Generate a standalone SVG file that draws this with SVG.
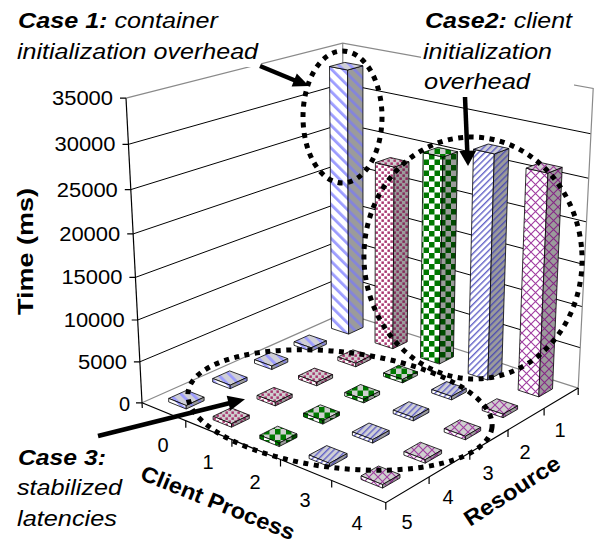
<svg xmlns="http://www.w3.org/2000/svg" width="594" height="544" viewBox="0 0 594 544">
<style>
.grid{stroke:#000;stroke-width:1;fill:none}
.edge{stroke:#8a8a8a;stroke-width:1.2;fill:none}
.ax{stroke:#000;stroke-width:1.2;fill:none}
.f{stroke:#000;stroke-width:0.8;stroke-linejoin:round}
.tl{font-family:"Liberation Sans",Arial,sans-serif;font-size:20px;fill:#000}
.note{font-family:"Liberation Sans",Arial,sans-serif;font-size:22px;font-style:italic;fill:#000}
.title{font-family:"Liberation Sans",Arial,sans-serif;font-size:22px;font-weight:bold;fill:#000}
.dots{fill:none;stroke:#000;stroke-width:5;stroke-dasharray:5 5.5}
.arr{stroke:#000;stroke-width:4.5;fill:none}
.head{fill:#000;stroke:none}
</style>
<defs>
<pattern id="s0" patternUnits="userSpaceOnUse" width="8" height="8" patternTransform="rotate(-45)"><rect width="8" height="8" fill="#fff"/><rect width="2.8" height="8" fill="#9c9cff"/></pattern>
<pattern id="s0d" patternUnits="userSpaceOnUse" width="8" height="8" patternTransform="rotate(-45)"><rect width="8" height="8" fill="#9b9b9b"/><rect width="2.8" height="8" fill="#8484dc"/></pattern>
<pattern id="s0t" patternUnits="userSpaceOnUse" width="8" height="8" patternTransform="rotate(-45)"><rect width="8" height="8" fill="#cfcfd6"/><rect width="2.8" height="8" fill="#9c9cff"/></pattern>
<pattern id="s1" patternUnits="userSpaceOnUse" width="6" height="6"><rect width="6" height="6" fill="#fff"/><rect x="0.4" y="0.4" width="2.5" height="2.5" fill="#a8366f"/><rect x="3.4" y="3.4" width="2.5" height="2.5" fill="#a8366f"/></pattern>
<pattern id="s1d" patternUnits="userSpaceOnUse" width="6" height="6"><rect width="6" height="6" fill="#9b9b9b"/><rect x="0.4" y="0.4" width="2.5" height="2.5" fill="#86295a"/><rect x="3.4" y="3.4" width="2.5" height="2.5" fill="#86295a"/></pattern>
<pattern id="s1t" patternUnits="userSpaceOnUse" width="6" height="6"><rect width="6" height="6" fill="#cfcfcf"/><rect x="0.4" y="0.4" width="2.5" height="2.5" fill="#a8366f"/><rect x="3.4" y="3.4" width="2.5" height="2.5" fill="#a8366f"/></pattern>
<pattern id="s2" patternUnits="userSpaceOnUse" width="11" height="11"><rect width="11" height="11" fill="#fff"/><rect width="5.5" height="5.5" fill="#007800"/><rect x="5.5" y="5.5" width="5.5" height="5.5" fill="#007800"/></pattern>
<pattern id="s2d" patternUnits="userSpaceOnUse" width="11" height="11"><rect width="11" height="11" fill="#9b9b9b"/><rect width="5.5" height="5.5" fill="#004a00"/><rect x="5.5" y="5.5" width="5.5" height="5.5" fill="#004a00"/></pattern>
<pattern id="s2t" patternUnits="userSpaceOnUse" width="11" height="11"><rect width="11" height="11" fill="#cfcfcf"/><rect width="5.5" height="5.5" fill="#007800"/><rect x="5.5" y="5.5" width="5.5" height="5.5" fill="#007800"/></pattern>
<pattern id="s3" patternUnits="userSpaceOnUse" width="4.5" height="4.5" patternTransform="rotate(45)"><rect width="4.5" height="4.5" fill="#fff"/><rect width="1.4" height="4.5" fill="#6464c8"/></pattern>
<pattern id="s3d" patternUnits="userSpaceOnUse" width="4.5" height="4.5" patternTransform="rotate(45)"><rect width="4.5" height="4.5" fill="#9b9b9b"/><rect width="1.4" height="4.5" fill="#5050b0"/></pattern>
<pattern id="s3t" patternUnits="userSpaceOnUse" width="4.5" height="4.5" patternTransform="rotate(45)"><rect width="4.5" height="4.5" fill="#cfcfd6"/><rect width="1.4" height="4.5" fill="#6464c8"/></pattern>
<pattern id="s4" patternUnits="userSpaceOnUse" width="9" height="9"><rect width="9" height="9" fill="#fff"/><path d="M0 0L9 9M9 0L0 9" stroke="#a03ca0" stroke-width="1.1"/></pattern>
<pattern id="s4d" patternUnits="userSpaceOnUse" width="9" height="9"><rect width="9" height="9" fill="#9b9b9b"/><path d="M0 0L9 9M9 0L0 9" stroke="#862686" stroke-width="1.1"/></pattern>
<pattern id="s4t" patternUnits="userSpaceOnUse" width="9" height="9"><rect width="9" height="9" fill="#cfcfcf"/><path d="M0 0L9 9M9 0L0 9" stroke="#a03ca0" stroke-width="1.1"/></pattern>
</defs>
<rect width="594" height="544" fill="#fff"/>

<g id="walls">
<polygon points="126,98.2 342.7,43.1 593.2,88.5 578.2,388.1 385.8,502.7 142,402.8" fill="#fff"/>
<line class="grid" x1="139.9" y1="361.8" x2="343.8" y2="276.4"/>
<line class="grid" x1="137.7" y1="320" x2="343.6" y2="239.2"/>
<line class="grid" x1="135.4" y1="277.4" x2="343.5" y2="201.3"/>
<line class="grid" x1="133.2" y1="233.9" x2="343.3" y2="162.8"/>
<line class="grid" x1="130.8" y1="189.6" x2="343.1" y2="123.6"/>
<line class="grid" x1="128.5" y1="144.3" x2="342.9" y2="83.7"/>
<line class="grid" x1="343.8" y1="276.4" x2="580.2" y2="347.7"/>
<line class="grid" x1="343.6" y1="239.2" x2="582.2" y2="306.6"/>
<line class="grid" x1="343.5" y1="201.3" x2="584.3" y2="264.6"/>
<line class="grid" x1="343.3" y1="162.8" x2="586.5" y2="221.9"/>
<line class="grid" x1="343.1" y1="123.6" x2="588.7" y2="178.3"/>
<line class="grid" x1="342.9" y1="83.7" x2="590.9" y2="133.8"/>
<polyline class="edge" points="126,98.2 342.7,43.1 593.2,88.5 578.2,388.1 344,313 142,402.8"/>
<line class="edge" x1="344" y1="313" x2="342.7" y2="43.1"/>
</g>

<g id="axes">
<line class="ax" x1="126" y1="98.2" x2="142.3" y2="408"/>
<path class="ax" d="M120 98.2H126M122.5 144.3H128.5M124.8 189.6H130.8M127.2 233.9H133.2M129.4 277.4H135.4M131.7 320H137.7M133.9 361.8H139.9M136 402.8H142"/>
<polyline class="ax" points="142,402.8 385.8,502.7 578.2,388.1"/>
<path class="ax" d="M185.8 420.8v7M231.9 439.7v7M280.5 459.6v7M331.7 480.5v7M385.8 502.7v7M429.1 476.9v7M469.8 452.7v7M508 429.9v7M544.1 408.4v7M578.2 388.1v7"/>
<text class="tl" x="52" y="105.2" textLength="61" lengthAdjust="spacingAndGlyphs">35000</text>
<text class="tl" x="54.5" y="151.3" textLength="61" lengthAdjust="spacingAndGlyphs">30000</text>
<text class="tl" x="56.8" y="196.6" textLength="61" lengthAdjust="spacingAndGlyphs">25000</text>
<text class="tl" x="59.2" y="240.9" textLength="61" lengthAdjust="spacingAndGlyphs">20000</text>
<text class="tl" x="61.4" y="284.4" textLength="61" lengthAdjust="spacingAndGlyphs">15000</text>
<text class="tl" x="63.7" y="327" textLength="61" lengthAdjust="spacingAndGlyphs">10000</text>
<text class="tl" x="77.9" y="368.8" textLength="49" lengthAdjust="spacingAndGlyphs">5000</text>
<text class="tl" x="130" y="410.5" text-anchor="end">0</text>
<text class="tl" x="163" y="452" text-anchor="middle">0</text>
<text class="tl" x="208" y="469" text-anchor="middle">1</text>
<text class="tl" x="255" y="489" text-anchor="middle">2</text>
<text class="tl" x="305" y="507" text-anchor="middle">3</text>
<text class="tl" x="357" y="530" text-anchor="middle">4</text>
<text class="tl" x="560" y="437" text-anchor="middle">1</text>
<text class="tl" x="525" y="459" text-anchor="middle">2</text>
<text class="tl" x="488" y="480" text-anchor="middle">3</text>
<text class="tl" x="448" y="504" text-anchor="middle">4</text>
<text class="tl" x="407" y="529" text-anchor="middle">5</text>
<text class="title" transform="translate(33,251.5) rotate(-90)" text-anchor="middle" textLength="127" lengthAdjust="spacingAndGlyphs">Time (ms)</text>
<text class="title" transform="translate(139,479) rotate(22)" textLength="164" lengthAdjust="spacingAndGlyphs">Client Process</text>
<text class="title" transform="translate(470,527) rotate(-33)" textLength="110" lengthAdjust="spacingAndGlyphs">Resource</text>
</g>

<g id="bars">
<g id="bar-c0-r1">
<polygon class="f" fill="url(#s0)" points="331.5,328.4 348.6,334.1 347.6,70 329.5,66.5"/>
<polygon class="f" fill="url(#s0d)" points="348.6,334.1 363.1,327.4 362.9,65.8 347.6,70"/>
<polygon class="f" fill="url(#s0t)" points="329.5,66.5 347.6,70 362.9,65.8 344.8,62.4"/>
</g>
<g id="bar-c1-r1">
<polygon class="f" fill="url(#s1)" points="375,342.8 392.9,348.7 394.1,167.1 375.4,162.6"/>
<polygon class="f" fill="url(#s1d)" points="392.9,348.7 407.2,341.8 409,161.8 394.1,167.1"/>
<polygon class="f" fill="url(#s1t)" points="375.4,162.6 394.1,167.1 409,161.8 390.3,157.5"/>
</g>
<g id="tile-c0-r2">
<polygon class="f" fill="url(#s0t)" points="294,341.8 311.2,347.8 326.4,340.8 309.2,335"/>
<polygon class="f" fill="url(#s0)" points="294,345.3 311.2,351.3 311.2,347.8 294,341.8"/>
<polygon class="f" fill="url(#s0d)" points="311.2,351.3 326.4,344.3 326.4,340.8 311.2,347.8"/>
</g>
<g id="bar-c2-r1">
<polygon class="f" fill="url(#s2)" points="420.5,357.8 439.3,364 442.8,157 423.1,152.5"/>
<polygon class="f" fill="url(#s2d)" points="439.3,364 453.4,356.8 457.6,151.7 442.8,157"/>
<polygon class="f" fill="url(#s2t)" points="423.1,152.5 442.8,157 457.6,151.7 438,147.3"/>
</g>
<g id="tile-c1-r2">
<polygon class="f" fill="url(#s1t)" points="337.8,357 355.8,363.3 370.9,355.9 352.9,349.8"/>
<polygon class="f" fill="url(#s1)" points="337.8,360.5 355.8,366.8 355.8,363.3 337.8,357"/>
<polygon class="f" fill="url(#s1d)" points="355.8,366.8 370.9,359.4 370.9,355.9 355.8,363.3"/>
</g>
<g id="tile-c0-r3">
<polygon class="f" fill="url(#s0t)" points="254.5,359.7 271.8,366 287.8,358.6 270.5,352.4"/>
<polygon class="f" fill="url(#s0)" points="254.5,363.2 271.8,369.5 271.8,366 254.5,359.7"/>
<polygon class="f" fill="url(#s0d)" points="271.8,369.5 287.8,362.1 287.8,358.6 271.8,366"/>
</g>
<g id="bar-c3-r1">
<polygon class="f" fill="url(#s3)" points="468.1,373.6 487.8,380.1 494.3,153.9 473.5,149.3"/>
<polygon class="f" fill="url(#s3d)" points="487.8,380.1 501.7,372.5 508.9,148.5 494.3,153.9"/>
<polygon class="f" fill="url(#s3t)" points="473.5,149.3 494.3,153.9 508.9,148.5 488.2,144"/>
</g>
<g id="tile-c2-r2">
<polygon class="f" fill="url(#s2t)" points="383.6,372.9 402.6,379.4 417.5,371.8 398.6,365.3"/>
<polygon class="f" fill="url(#s2)" points="383.6,376.4 402.6,382.9 402.6,379.4 383.6,372.9"/>
<polygon class="f" fill="url(#s2d)" points="402.6,382.9 417.5,375.3 417.5,371.8 402.6,379.4"/>
</g>
<g id="tile-c1-r3">
<polygon class="f" fill="url(#s1t)" points="298.5,375.7 316.7,382.3 332.6,374.6 314.5,368.1"/>
<polygon class="f" fill="url(#s1)" points="298.5,379.2 316.7,385.8 316.7,382.3 298.5,375.7"/>
<polygon class="f" fill="url(#s1d)" points="316.7,385.8 332.6,378.1 332.6,374.6 316.7,382.3"/>
</g>
<g id="tile-c0-r4">
<polygon class="f" fill="url(#s0t)" points="212.7,378.5 230.2,385.2 247.1,377.4 229.7,370.9"/>
<polygon class="f" fill="url(#s0)" points="212.7,382 230.2,388.7 230.2,385.2 212.7,378.5"/>
<polygon class="f" fill="url(#s0d)" points="230.2,388.7 247.1,380.9 247.1,377.4 230.2,385.2"/>
</g>
<g id="bar-c4-r1">
<polygon class="f" fill="url(#s4)" points="518.1,390.1 538.8,396.9 547.9,173.1 526.1,168.2"/>
<polygon class="f" fill="url(#s4d)" points="538.8,396.9 552.5,388.9 562.2,167.3 547.9,173.1"/>
<polygon class="f" fill="url(#s4t)" points="526.1,168.2 547.9,173.1 562.2,167.3 540.5,162.5"/>
</g>
<g id="tile-c3-r2">
<polygon class="f" fill="url(#s3t)" points="431.7,389.5 451.6,396.4 466.3,388.4 446.5,381.6"/>
<polygon class="f" fill="url(#s3)" points="431.7,393 451.6,399.9 451.6,396.4 431.7,389.5"/>
<polygon class="f" fill="url(#s3d)" points="451.6,399.9 466.3,391.9 466.3,388.4 451.6,396.4"/>
</g>
<g id="tile-c2-r3">
<polygon class="f" fill="url(#s2t)" points="344.7,392.5 363.8,399.4 379.6,391.3 360.5,384.5"/>
<polygon class="f" fill="url(#s2)" points="344.7,396 363.8,402.9 363.8,399.4 344.7,392.5"/>
<polygon class="f" fill="url(#s2d)" points="363.8,402.9 379.6,394.8 379.6,391.3 363.8,399.4"/>
</g>
<g id="tile-c1-r4">
<polygon class="f" fill="url(#s1t)" points="257,395.4 275.3,402.4 292.2,394.2 273.9,387.4"/>
<polygon class="f" fill="url(#s1)" points="257,398.9 275.3,405.9 275.3,402.4 257,395.4"/>
<polygon class="f" fill="url(#s1d)" points="275.3,405.9 292.2,397.7 292.2,394.2 275.3,402.4"/>
</g>
<g id="tile-c0-r5">
<polygon class="f" fill="url(#s0t)" points="168.7,398.4 186.2,405.5 204.1,397.2 186.6,390.3"/>
<polygon class="f" fill="url(#s0)" points="168.7,401.9 186.2,409 186.2,405.5 168.7,398.4"/>
<polygon class="f" fill="url(#s0d)" points="186.2,409 204.1,400.7 204.1,397.2 186.2,405.5"/>
</g>
<g id="tile-c4-r2">
<polygon class="f" fill="url(#s4t)" points="482.2,407 503.1,414.2 517.6,405.8 496.8,398.7"/>
<polygon class="f" fill="url(#s4)" points="482.2,410.5 503.1,417.7 503.1,414.2 482.2,407"/>
<polygon class="f" fill="url(#s4d)" points="503.1,417.7 517.6,409.3 517.6,405.8 503.1,414.2"/>
</g>
<g id="tile-c3-r3">
<polygon class="f" fill="url(#s3t)" points="393.2,410.1 413.3,417.4 428.9,408.9 408.9,401.7"/>
<polygon class="f" fill="url(#s3)" points="393.2,413.6 413.3,420.9 413.3,417.4 393.2,410.1"/>
<polygon class="f" fill="url(#s3d)" points="413.3,420.9 428.9,412.4 428.9,408.9 413.3,417.4"/>
</g>
<g id="tile-c2-r4">
<polygon class="f" fill="url(#s2t)" points="303.5,413.2 322.8,420.6 339.5,412 320.3,404.8"/>
<polygon class="f" fill="url(#s2)" points="303.5,416.7 322.8,424.1 322.8,420.6 303.5,413.2"/>
<polygon class="f" fill="url(#s2d)" points="322.8,424.1 339.5,415.5 339.5,412 322.8,420.6"/>
</g>
<g id="tile-c1-r5">
<polygon class="f" fill="url(#s1t)" points="213.1,416.3 231.5,423.7 249.3,415.1 231,407.8"/>
<polygon class="f" fill="url(#s1)" points="213.1,419.8 231.5,427.2 231.5,423.7 213.1,416.3"/>
<polygon class="f" fill="url(#s1d)" points="231.5,427.2 249.3,418.6 249.3,415.1 231.5,423.7"/>
</g>
<g id="tile-c4-r3">
<polygon class="f" fill="url(#s4t)" points="444.2,428.6 465.4,436.3 480.7,427.3 459.7,419.8"/>
<polygon class="f" fill="url(#s4)" points="444.2,432.1 465.4,439.8 465.4,436.3 444.2,428.6"/>
<polygon class="f" fill="url(#s4d)" points="465.4,439.8 480.7,430.8 480.7,427.3 465.4,436.3"/>
</g>
<g id="tile-c3-r4">
<polygon class="f" fill="url(#s3t)" points="352.4,431.9 372.7,439.6 389.2,430.6 369,423"/>
<polygon class="f" fill="url(#s3)" points="352.4,435.4 372.7,443.1 372.7,439.6 352.4,431.9"/>
<polygon class="f" fill="url(#s3d)" points="372.7,443.1 389.2,434.1 389.2,430.6 372.7,439.6"/>
</g>
<g id="tile-c2-r5">
<polygon class="f" fill="url(#s2t)" points="259.8,435.2 279.2,443 297,433.9 277.6,426.2"/>
<polygon class="f" fill="url(#s2)" points="259.8,438.7 279.2,446.5 279.2,443 259.8,435.2"/>
<polygon class="f" fill="url(#s2d)" points="279.2,446.5 297,437.4 297,433.9 279.2,443"/>
</g>
<g id="tile-c4-r4">
<polygon class="f" fill="url(#s4t)" points="403.9,451.6 425.2,459.7 441.6,450.2 420.3,442.2"/>
<polygon class="f" fill="url(#s4)" points="403.9,455.1 425.2,463.2 425.2,459.7 403.9,451.6"/>
<polygon class="f" fill="url(#s4d)" points="425.2,463.2 441.6,453.7 441.6,450.2 425.2,459.7"/>
</g>
<g id="tile-c3-r5">
<polygon class="f" fill="url(#s3t)" points="309.1,455 329.5,463.3 347.1,453.6 326.7,445.6"/>
<polygon class="f" fill="url(#s3)" points="309.1,458.5 329.5,466.8 329.5,463.3 309.1,455"/>
<polygon class="f" fill="url(#s3d)" points="329.5,466.8 347.1,457.1 347.1,453.6 329.5,463.3"/>
</g>
<g id="tile-c4-r5">
<polygon class="f" fill="url(#s4t)" points="361,475.9 382.6,484.6 400,474.5 378.5,466"/>
<polygon class="f" fill="url(#s4)" points="361,479.4 382.6,488.1 382.6,484.6 361,475.9"/>
<polygon class="f" fill="url(#s4d)" points="382.6,488.1 400,478 400,474.5 382.6,484.6"/>
</g>
</g>

<g id="case1">
<rect x="15" y="4" width="246" height="63" fill="#fff"/>
<text class="note" x="18" y="28" textLength="200" lengthAdjust="spacingAndGlyphs"><tspan font-weight="bold">Case 1:</tspan> container</text>
<text class="note" x="17" y="59" textLength="241" lengthAdjust="spacingAndGlyphs">initialization overhead</text>
<ellipse class="dots" cx="342.5" cy="117" rx="39.5" ry="66"/>
</g>
<g id="case2">
<rect x="421" y="4" width="153" height="90" fill="#fff"/>
<text class="note" x="425" y="28" textLength="147" lengthAdjust="spacingAndGlyphs"><tspan font-weight="bold">Case2:</tspan> client</text>
<text class="note" x="423" y="59" textLength="129" lengthAdjust="spacingAndGlyphs">initialization</text>
<text class="note" x="424" y="89" textLength="106" lengthAdjust="spacingAndGlyphs">overhead</text>
<ellipse class="dots" cx="473" cy="258" rx="109" ry="121" transform="rotate(-4 473 258)"/>
</g>
<g id="case3">
<text class="note" x="18" y="465" textLength="88" lengthAdjust="spacingAndGlyphs"><tspan font-weight="bold">Case 3:</tspan></text>
<text class="note" x="17" y="495" textLength="105" lengthAdjust="spacingAndGlyphs">stabilized</text>
<text class="note" x="17" y="526" textLength="100" lengthAdjust="spacingAndGlyphs">latencies</text>
<ellipse class="dots" cx="340" cy="410" rx="153" ry="58" transform="rotate(6.6 340 410)"/>
</g>

<g id="connectors">
<line class="arr" x1="260" y1="66" x2="295" y2="80.5"/>
<polygon class="head" points="309,86 296.8,73.5 291.6,86.5"/>
<line class="arr" x1="465" y1="97" x2="467.3" y2="152"/>
<polygon class="head" points="468,166 459.3,151 476.3,150.5"/>
<line class="arr" x1="98" y1="436" x2="230" y2="403"/>
<polygon class="head" points="245,399.3 226.7,395.8 230.3,410.4"/>
</g>
</svg>
